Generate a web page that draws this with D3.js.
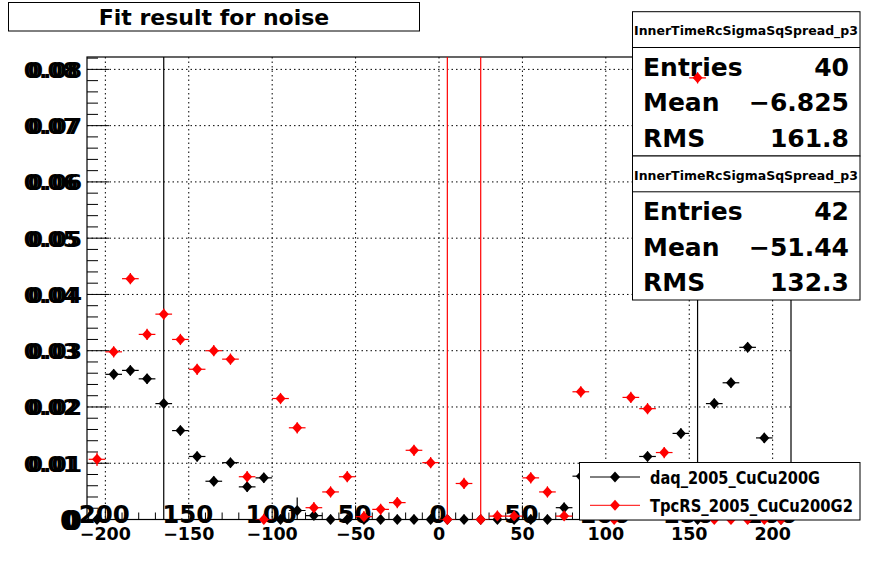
<!DOCTYPE html>
<html>
<head>
<meta charset="utf-8">
<script src="https://cdn.jsdelivr.net/npm/d3@7"></script>
<style>
  body { margin: 0; background: #fff; }
  svg { display: block; font-family: "DejaVu Sans", sans-serif; font-weight: bold; }
</style>
</head>
<body>
<svg id="chart" width="878" height="578"></svg>
<script>
// bin centres (10 wide)
const bins = [-205, -195, -185, -175, -165, -155, -145, -135, -125, -115, -105, -95, -85, -75,
  -65, -55, -45, -35, -25, -15, -5, 5, 15, 25, 35, 45, 55, 65, 75, 85, 95, 105, 115, 125,
  135, 145, 155, 165, 175, 185, 195, 205];

// daq_2005_CuCu200G (black)
const daqValues = [0, 0.0258, 0.0265, 0.0250, 0.0206, 0.0158, 0.0112, 0.0068, 0.0101, 0.0058, 0.0074, 0, 0.0016, 0.0007,
  0, 0, 0, 0, 0, 0, 0, 0, 0, 0, 0, 0, 0, 0, 0.0021, 0.0077, 0.0050, 0.0035, 0.0080, 0.0112,
  0.0090, 0.0153, 0, 0.0206, 0.0243, 0.0306, 0.0145, 0];
const daqErrors = [0.0009, 0.0009, 0.0009, 0.0009, 0.2, 0.0009, 0.0009, 0.0009, 0.0009, 0.0009, 0.0009, 0.0009, 0.0023, 0.0009,
  0.0009, 0.0009, 0.0009, 0.0009, 0.0009, 0.0009, 0.0009, 0.0009, 0.0009, 0.0009, 0.0009, 0.0009, 0.0009, 0.0009, 0.0009, 0.0009, 0.0009, 0.0009, 0.0009, 0.0009,
  0.0009, 0.0009, 0.2, 0.0009, 0.0009, 0.0009, 0.0009, 0.0009];

// TpcRS_2005_CuCu200G2 (red)
const rsValues = [0.0107, 0.0298, 0.0428, 0.0329, 0.0365, 0.0320, 0.0267, 0.0300, 0.0285, 0.0076, 0, 0.0215, 0.0163, 0.0021,
  0.0049, 0.0076, 0.0005, 0.0018, 0.0030, 0.0123, 0.0101, 0, 0.0064, 0, 0.0006, 0.0006, 0.0074, 0.0049, 0.0006, 0.0227, 0.0040, 0, 0.0217, 0.0197,
  0.0119, 0.0060, 0.0785, 0, 0, 0, 0, 0];
const rsErrors = [0.0012, 0.001, 0.001, 0.001, 0.001, 0.001, 0.001, 0.001, 0.001, 0.001, 0.001, 0.001, 0.001, 0.001,
  0.001, 0.001, 0.001, 0.001, 0.001, 0.001, 0.001, 0.2, 0.001, 0.2, 0.001, 0.001, 0.001, 0.001, 0.001, 0.001, 0.001, 0.001, 0.001, 0.001,
  0.001, 0.001, 0.001, 0.001, 0.001, 0.001, 0.001, 0.001];

const xTicks = [-200, -150, -100, -50, 0, 50, 100, 150, 200];
const xTickLabels = ["\u2212200", "\u2212150", "\u2212100", "\u221250", "0", "50", "100", "150", "200"];
const xOverLabels = ["200", "150", "100", "50", "0", "50", "100", "150", "200"];
const yTicks = [0, 0.01, 0.02, 0.03, 0.04, 0.05, 0.06, 0.07, 0.08];
const yTickLabels = ["0", "0.01", "0.02", "0.03", "0.04", "0.05", "0.06", "0.07", "0.08"];

const statsBoxes = [
  { title: "InnerTimeRcSigmaSqSpread_p3", rows: [["Entries", "40"], ["Mean", "\u22126.825"], ["RMS", "161.8"]] },
  { title: "InnerTimeRcSigmaSqSpread_p3", rows: [["Entries", "42"], ["Mean", "\u221251.44"], ["RMS", "132.3"]] }
];
const legendNames = ["daq_2005_CuCu200G", "TpcRS_2005_CuCu200G2"];
const legendWidths = [170, 203];
const colors = ["#000000", "#ff0000"];

const svg = d3.select('#chart');
const x = d3.scaleLinear().domain([-211, 211]).range([87, 791]);
const y = d3.scaleLinear().domain([0, 0.0822]).range([519.5, 57]);
const L = 87, R = 791, T = 57, B = 519.5;

svg.append('defs').append('clipPath').attr('id', 'frame')
  .append('rect').attr('x', L).attr('y', T).attr('width', R - L).attr('height', B - T);

// title box
svg.append('rect').attr('x', 8.5).attr('y', 2.5).attr('width', 411).attr('height', 28.5)
  .attr('fill', '#fff').attr('stroke', '#000');
svg.append('text').attr('x', 214).attr('y', 25).attr('text-anchor', 'middle')
  .attr('font-size', 22).text('Fit result for noise');

// grid
const grid = svg.append('g').attr('stroke', '#000').attr('stroke-dasharray', '1.5,3').attr('stroke-width', 1);
xTicks.forEach(t => grid.append('line').attr('x1', x(t)).attr('x2', x(t)).attr('y1', T).attr('y2', B));
yTicks.slice(1).forEach(t => grid.append('line').attr('x1', L).attr('x2', R).attr('y1', y(t)).attr('y2', y(t)));

// frame
svg.append('rect').attr('x', L).attr('y', T).attr('width', R - L).attr('height', B - T)
  .attr('fill', 'none').attr('stroke', '#000').attr('stroke-width', 1.2);

// y ticks
const yMinor = d3.range(0, 0.0822, 0.002);
svg.append('g').selectAll('line').data(yMinor).join('line')
  .attr('x1', L).attr('y1', d => y(d)).attr('y2', d => y(d))
  .attr('x2', (d, i) => i % 5 === 0 ? L + 22 : L + 11)
  .attr('stroke', '#000');

// x ticks
const xMinor = d3.range(-210, 211, 10);
svg.append('g').selectAll('line').data(xMinor).join('line')
  .attr('x1', d => x(d)).attr('x2', d => x(d)).attr('y1', B)
  .attr('y2', d => d % 50 === 0 ? B - 14 : B - 7)
  .attr('stroke', '#000');

// y labels (drawn twice, slightly offset, like the original)
[0, 4].forEach(off => {
  svg.append('g').selectAll('text').data(yTicks).join('text')
    .attr('x', 82 - off).attr('y', d => y(d) + (d === 0 ? 10 : 8.5))
    .attr('text-anchor', 'end').attr('font-size', d => d === 0 ? 26 : 22)
    .text((d, i) => yTickLabels[i]);
});

// x labels
svg.append('g').selectAll('text').data(xTicks).join('text')
  .attr('x', d => x(d)).attr('y', 540).attr('text-anchor', 'middle').attr('font-size', 17.5)
  .text((d, i) => xTickLabels[i]);
svg.append('g').selectAll('text').data(xTicks).join('text')
  .attr('x', d => x(d) - 1).attr('y', 523).attr('text-anchor', 'middle').attr('font-size', 24.5)
  .text((d, i) => xOverLabels[i]);

function drawHist(values, errors, color) {
  const g = svg.append('g');
  const pts = bins.map((b, i) => ({ b, v: values[i], e: errors[i] }));
  const eg = g.append('g').attr('clip-path', 'url(#frame)').attr('stroke', color).attr('stroke-width', 1.2);
  eg.selectAll('.h').data(pts).join('line')
    .attr('x1', d => x(d.b - 5)).attr('x2', d => x(d.b + 5))
    .attr('y1', d => y(d.v)).attr('y2', d => y(d.v));
  eg.selectAll('.v').data(pts).join('line')
    .attr('x1', d => x(d.b)).attr('x2', d => x(d.b))
    .attr('y1', d => y(d.v - d.e)).attr('y2', d => y(d.v + d.e));
  g.selectAll('path').data(pts).join('path')
    .attr('transform', d => `translate(${x(d.b)},${y(d.v)})`)
    .attr('d', 'M0,-5.5L5,0L0,5.5L-5,0Z')
    .attr('fill', color);
}

function drawStats(box, top, bottom) {
  const g = svg.append('g');
  g.append('rect').attr('x', 632.5).attr('y', top).attr('width', 227.5).attr('height', bottom - top)
    .attr('fill', '#fff').attr('stroke', '#000');
  g.append('line').attr('x1', 632.5).attr('x2', 860).attr('y1', top + 35.8).attr('y2', top + 35.8).attr('stroke', '#000');
  g.append('text').attr('x', 746).attr('y', top + 23.5).attr('text-anchor', 'middle')
    .attr('font-size', 12.5).text(box.title);
  box.rows.forEach((r, i) => {
    const by = top + 64 + i * 35.5;
    g.append('text').attr('x', 643).attr('y', by).attr('font-size', 25).text(r[0]);
    g.append('text').attr('x', 849).attr('y', by).attr('text-anchor', 'end').attr('font-size', 25).text(r[1]);
  });
}

drawHist(daqValues, daqErrors, colors[0]);
drawStats(statsBoxes[0], 11.7, 156);
drawHist(rsValues, rsErrors, colors[1]);
drawStats(statsBoxes[1], 156, 300);

// legend
const lg = svg.append('g');
lg.append('rect').attr('x', 579.5).attr('y', 462.5).attr('width', 280.5).attr('height', 57.5)
  .attr('fill', '#fff').attr('stroke', '#000');
legendNames.forEach((name, i) => {
  const ly = 477 + i * 28.3;
  lg.append('line').attr('x1', 590).attr('x2', 640).attr('y1', ly).attr('y2', ly).attr('stroke', colors[i]);
  lg.append('path').attr('transform', `translate(615,${ly})`).attr('d', 'M0,-5.5L5,0L0,5.5L-5,0Z').attr('fill', colors[i]);
  lg.append('text').attr('x', 650).attr('y', ly + 6.5).attr('font-size', 17)
    .attr('textLength', legendWidths[i]).attr('lengthAdjust', 'spacingAndGlyphs').text(name);
});
</script>
</body>
</html>
